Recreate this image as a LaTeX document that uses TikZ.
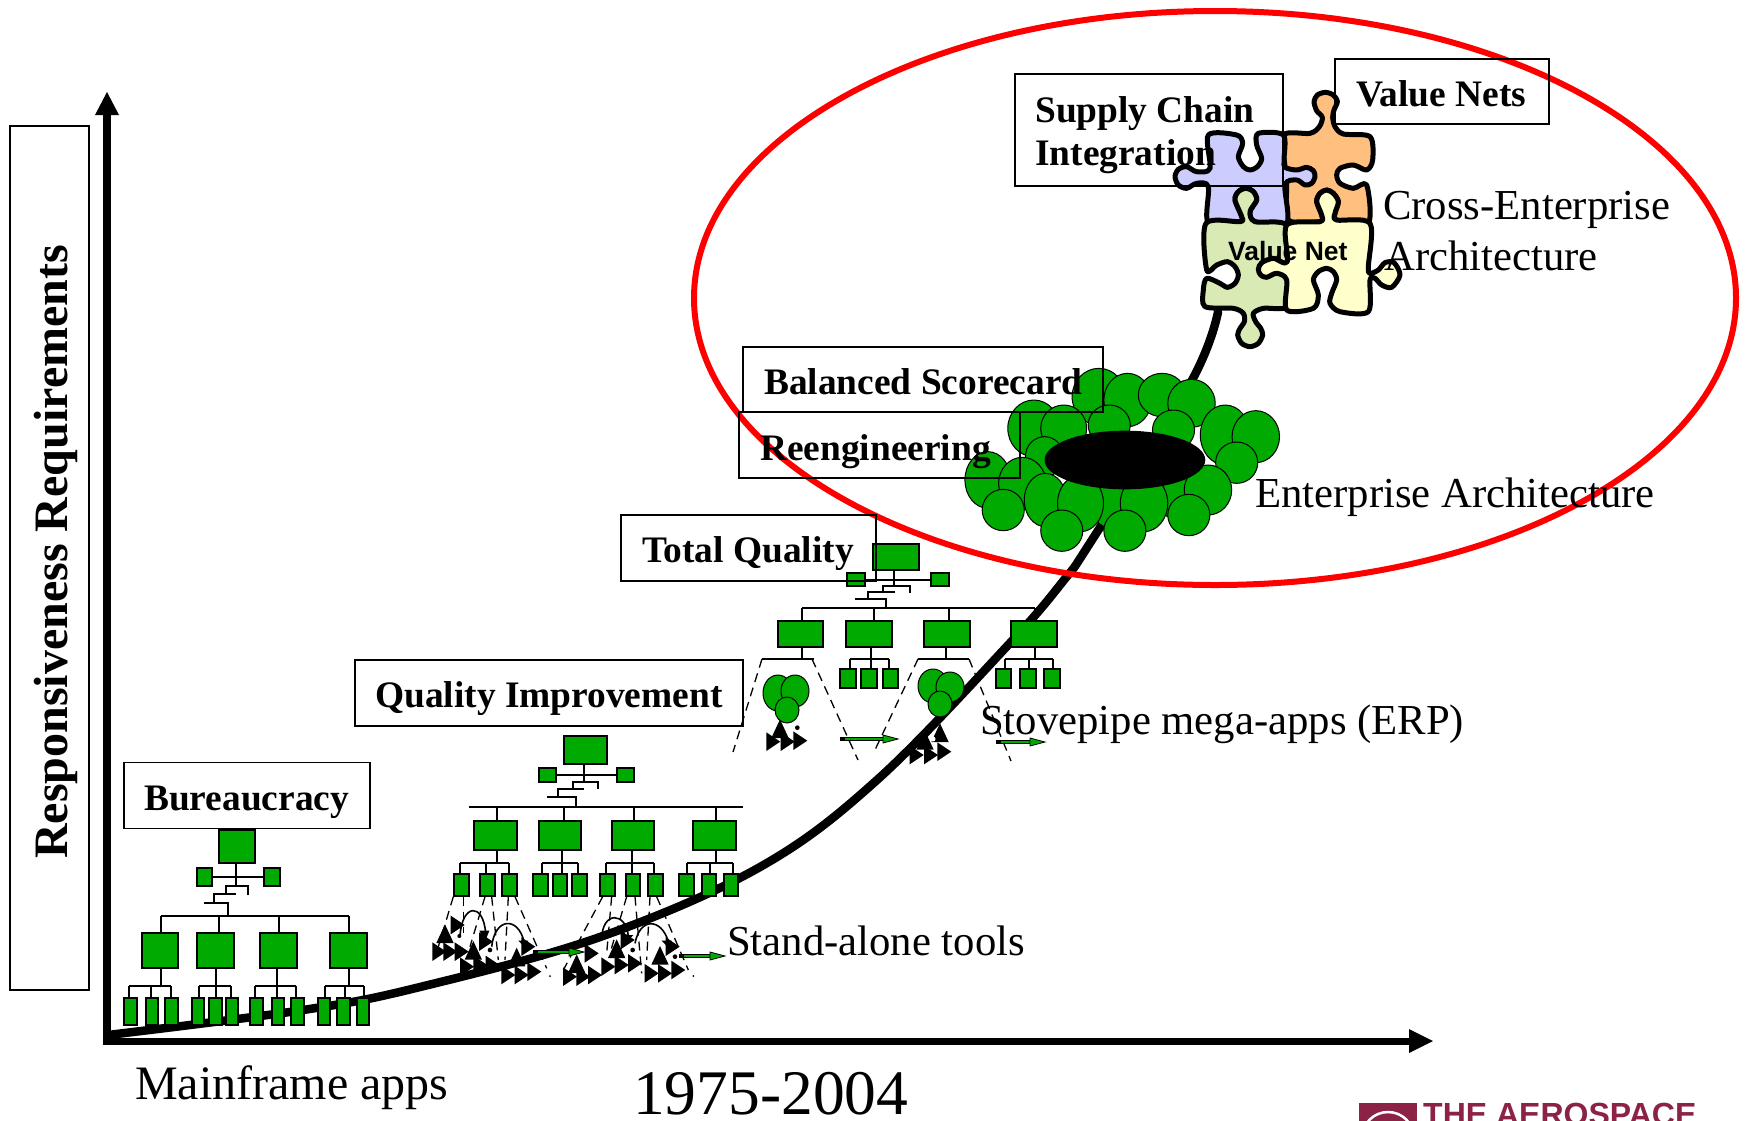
\documentclass[tikz,border=0pt]{standalone}
\usepackage{fontspec}
\setmainfont{Liberation Serif}
\newfontfamily\arialf{Liberation Sans}
\definecolor{gr}{HTML}{00AA00}
\definecolor{puz1}{HTML}{CCCCFF}
\definecolor{puz2}{HTML}{FFBF7F}
\definecolor{puz3}{HTML}{D9EAB5}
\definecolor{puz4}{HTML}{FFFFCC}
\definecolor{logoc}{HTML}{8C2346}
\tikzset{
 gbox/.style={draw=black,fill=gr,line width=1.6pt,inner sep=0pt,outer sep=0pt},
 ol/.style={draw=black,line width=1.3pt},
 dl/.style={draw=black,line width=1.3pt,dash pattern=on 9pt off 6pt},
 blob/.style={draw=black,fill=gr,line width=1pt},
 puz/.style={draw=black,line width=5pt,line join=round},
 tbox/.style={draw=black,line width=1.4pt},
 btxt/.style={anchor=base west,inner sep=0pt,font=\fontsize{37.4}{37.4}\selectfont\bfseries},
 rtxt/.style={anchor=base west,inner sep=0pt,font=\fontsize{42.7}{42.7}\selectfont},
 arcl/.style={draw=black,line width=1.6pt},
}
\newcommand\gb[5]{%
 \pgfmathsetmacro{\gw}{#4-#2}\pgfmathsetmacro{\gh}{#5-#3}%
 \node[gbox,minimum width=\gw pt,minimum height=\gh pt] (#1) at ({(#2+#4)/2},{(#3+#5)/2}) {};}
\newcommand\drop[3]{\draw[ol] (#1,#2) -- (#1,#2 |- #3.north);}
\newcommand\rise[3]{\draw[ol] (#1,#2 |- #3.south) -- (#1,#2);}
\newcommand\rtri[2]{\fill[black] (#1-18,#2-28) -- (#1+24,#2) -- (#1-18,#2+28) -- cycle;}
\newcommand\utri[2]{\fill[black] (#1-26,#2+24) -- (#1,#2-32) -- (#1+26,#2+24) -- cycle;}
\newcommand\garrow[3]{%
 \draw[black,line width=3.6pt] (#1,#3) -- (#2-12,#3);
 \draw[gr,line width=1.8pt] (#1+5,#3) -- (#2-12,#3);
 \filldraw[fill=gr,draw=black,line width=.8pt] (#2-15,#3-4) -- (#2,#3) -- (#2-15,#3+4) -- cycle;}
\begin{document}
\begin{tikzpicture}[x=1pt,y=-1pt]
\useasboundingbox (0,0) rectangle (1745,1120);
\clip (0,0) rectangle (1745,1120);
\fill[white] (0,0) rectangle (1745,1120);

% axes
\coordinate (origin) at (107,1041);
\coordinate (ytip) at (107,92);
\coordinate (xtip) at (1433,1041);
\draw[black,line width=8pt] (107,1045) -- (107,112);
\draw[black,line width=7pt] (103,1041) -- (1412,1041);
\fill[black] (ytip) -- (119,115) -- (95,115) -- cycle;
\fill[black] (xtip) -- (1409,1053) -- (1409,1029) -- cycle;

% growth curve
\draw[black,line width=8.5pt,line cap=round] plot[smooth,tension=.6] coordinates
 {(108,1035) (303,1010) (420,987) (600,937) (760,867) (877,780) (1010,643) (1064,580) (1090,543) (1191,382) (1218,312)};

% Chart 1
\gb{a0}{219}{830}{255}{863}
\gb{a1}{197}{868}{212}{886}\gb{a2}{264}{868}{280}{886}
\gb{am1}{142}{933}{178}{968}\gb{am2}{197}{933}{234}{968}\gb{am3}{260}{933}{297}{968}\gb{am4}{330}{933}{367}{968}
\gb{as1}{124}{998}{137}{1025}\gb{as2}{146}{998}{158}{1025}\gb{as3}{165}{998}{178}{1025}
\gb{as4}{192}{998}{204}{1025}\gb{as5}{209}{998}{222}{1025}\gb{as6}{226}{998}{238}{1025}
\gb{as7}{250}{998}{263}{1025}\gb{as8}{272}{998}{284}{1025}\gb{as9}{291}{998}{304}{1025}
\gb{as10}{318}{998}{330}{1025}\gb{as11}{337}{998}{350}{1025}\gb{as12}{357}{998}{369}{1025}
\rise{236}{886}{a0}
\draw[ol] (a1.east |- 236,877) -- (a2.west |- 236,877);
\draw[ol] (226,894) -- (226,886) -- (248,886) -- (248,895);
\draw[ol] (214,903) -- (214,894) -- (236,894);
\draw[ol] (204,903) -- (228,903) -- (228,916);
\draw[ol] (161,916) -- (349,916);
\drop{161}{916}{am1}\drop{219}{916}{am2}\drop{279}{916}{am3}\drop{349}{916}{am4}
\rise{161}{986}{am1}\rise{216}{986}{am2}\rise{277}{986}{am3}\rise{349}{986}{am4}
\draw[ol] (129,986) -- (171,986);\draw[ol] (199,986) -- (231,986);\draw[ol] (255,986) -- (296,986);\draw[ol] (325,986) -- (364,986);
\drop{129}{986}{as1}\drop{151}{986}{as2}\drop{171}{986}{as3}
\drop{199}{986}{as4}\drop{216}{986}{as5}\drop{231}{986}{as6}
\drop{255}{986}{as7}\drop{277}{986}{as8}\drop{296}{986}{as9}
\drop{325}{986}{as10}\drop{345}{986}{as11}\drop{364}{986}{as12}

% Chart 2
\gb{b0}{564}{736}{607}{764}
\gb{b1}{539}{768}{556}{782}\gb{b2}{617}{768}{634}{782}
\gb{bm1}{474}{821}{517}{850}\gb{bm2}{539}{821}{581}{850}\gb{bm3}{612}{821}{654}{850}\gb{bm4}{693}{821}{736}{850}
\gb{bs1}{454}{874}{469}{896}\gb{bs2}{480}{874}{495}{896}\gb{bs3}{502}{874}{517}{896}
\gb{bs4}{533}{874}{548}{896}\gb{bs5}{553}{874}{567}{896}\gb{bs6}{572}{874}{587}{896}
\gb{bs7}{600}{874}{615}{896}\gb{bs8}{626}{874}{640}{896}\gb{bs9}{648}{874}{663}{896}
\gb{bs10}{679}{874}{694}{896}\gb{bs11}{702}{874}{716}{896}\gb{bs12}{724}{874}{738}{896}
\rise{584}{782}{b0}
\draw[ol] (b1.east |- 584,775) -- (b2.west |- 584,775);
\draw[ol] (573,789) -- (573,782) -- (598,782) -- (598,789);
\draw[ol] (558,797) -- (558,789) -- (584,789);
\draw[ol] (547,797) -- (576,797) -- (576,807);
\draw[ol,line width=1.8pt] (469,807) -- (743,807);
\drop{497}{807}{bm1}\drop{564}{807}{bm2}\drop{634}{807}{bm3}\drop{716}{807}{bm4}
\rise{497}{863}{bm1}\rise{562}{863}{bm2}\rise{632}{863}{bm3}\rise{716}{863}{bm4}
\draw[ol] (460,863) -- (509,863);\draw[ol] (542,863) -- (578,863);\draw[ol] (606,863) -- (654,863);\draw[ol] (687,863) -- (733,863);
\drop{460}{863}{bs1}\drop{486}{863}{bs2}\drop{509}{863}{bs3}
\drop{542}{863}{bs4}\drop{562}{863}{bs5}\drop{578}{863}{bs6}
\drop{606}{863}{bs7}\drop{632}{863}{bs8}\drop{654}{863}{bs9}
\drop{687}{863}{bs10}\drop{710}{863}{bs11}\drop{733}{863}{bs12}

% Stand-alone tools clusters (crop coordinates at 3x)
\begin{scope}[shift={(420,720)},scale=1/3]
 \draw[dl] (100,530) -- (55,680);
 \draw[dl] (130,530) -- (130,640);
 \draw[dl] (195,530) -- (150,680);
 \draw[dl] (215,530) -- (235,720);
 \draw[dl] (265,530) -- (255,720);
 \draw[dl] (285,530) -- (380,745);
 \draw[dl] (548,530) -- (430,750);
 \draw[dl] (575,530) -- (560,700);
 \draw[dl] (620,530) -- (570,700);
 \draw[dl] (645,530) -- (665,760);
 \draw[dl] (690,530) -- (680,720);
 \draw[dl] (710,530) -- (805,750);
 \fill[black] (390,768) circle (3) (820,768) circle (3);
 \draw[arcl] (120,650) .. controls (125,550) and (190,545) .. (197,640);
 \draw[arcl] (215,680) .. controls (225,590) and (295,590) .. (312,665);
 \draw[arcl] (545,660) .. controls (545,570) and (620,575) .. (625,650);
 \draw[arcl] (645,670) .. controls (660,590) and (725,595) .. (745,665);
 \rtri{55}{695}\rtri{88}{695}\rtri{122}{695}\utri{75}{645}\rtri{110}{615}
 \fill[black] (178,632) -- (208,632) -- (195,665) -- cycle;\rtri{195}{665}
 \fill[black] (118,648) circle (6);
 \rtri{138}{740}\rtri{178}{735}\rtri{215}{735}\utri{160}{695}\fill[black] (210,690) circle (7);
 \rtri{322}{680}\fill[black] (295,662) -- (325,662) -- (312,680) -- cycle;
 \rtri{262}{765}\rtri{302}{765}\rtri{340}{755}\utri{290}{715}
 \rtri{447}{770}\rtri{487}{770}\rtri{522}{765}\utri{470}{735}\rtri{512}{700}
 \rtri{620}{660}\fill[black] (605,645) -- (640,645) -- (622,665) -- cycle;
 \rtri{562}{740}\rtri{602}{735}\rtri{642}{730}\utri{590}{690}\fill[black] (638,690) circle (7);
 \rtri{755}{680}\fill[black] (725,662) -- (755,662) -- (742,680) -- cycle;
 \rtri{692}{760}\rtri{732}{760}\rtri{772}{750}\utri{720}{710}\fill[black] (765,710) circle (7);
\end{scope}
\garrow{533}{584}{952}
\garrow{679}{725}{956}

% Chart 3
\gb{c0}{873}{544}{919}{570}
\gb{c1}{847}{573}{865}{586}\gb{c2}{931}{573}{949}{586}
\gb{cm1}{778}{621}{823}{647}\gb{cm2}{846}{621}{892}{647}\gb{cm3}{924}{621}{970}{647}\gb{cm4}{1011}{621}{1057}{647}
\gb{cs1}{840}{669}{856}{688}\gb{cs2}{861}{669}{877}{688}\gb{cs3}{883}{669}{898}{688}
\gb{cs4}{996}{669}{1011}{688}\gb{cs5}{1020}{669}{1036}{688}\gb{cs6}{1044}{669}{1060}{688}
\rise{894}{586}{c0}
\draw[ol] (c1.east |- 894,580) -- (c2.west |- 894,580);
\draw[ol] (883,592) -- (883,586) -- (910,586) -- (910,593);
\draw[ol] (868,599) -- (868,592) -- (895,592);
\draw[ol] (855,599) -- (886,599) -- (886,608);
\draw[ol] (802,608) -- (1035,608);
\drop{802}{608}{cm1}\drop{874}{608}{cm2}\drop{949}{608}{cm3}\drop{1035}{608}{cm4}
\rise{802}{659}{cm1}\rise{871}{659}{cm2}\rise{946}{659}{cm3}\rise{1035}{659}{cm4}
\draw[ol] (762,659) -- (814,659);\draw[ol] (850,659) -- (889,659);\draw[ol] (918,659) -- (969,659);\draw[ol] (1005,659) -- (1053,659);
\drop{850}{659}{cs1}\drop{871}{659}{cs2}\drop{889}{659}{cs3}
\drop{1005}{659}{cs4}\drop{1029}{659}{cs5}\drop{1053}{659}{cs6}
\draw[dl] (762,659) -- (733,752);
\draw[dl] (812,659) -- (858,760);
\draw[dl] (918,659) -- (874,752);
\draw[dl] (969,659) -- (1011,761);
\begin{scope}[shift={(610,510)},scale=1/3]
 \rtri{487}{695}\rtri{530}{695}\rtri{568}{692}\utri{510}{660}
 \fill[black] (562,653) circle (7);
 \rtri{917}{735}\rtri{960}{735}\rtri{1000}{725}\utri{945}{695}\utri{990}{672}
\end{scope}
\draw[blob] (778,693) ellipse [x radius=15,y radius=18];
\draw[blob] (795,691) ellipse [x radius=14,y radius=16];
\draw[blob] (787,710) ellipse [x radius=12,y radius=13];
\draw[blob] (933,686) ellipse [x radius=15,y radius=17];
\draw[blob] (950,687) ellipse [x radius=14,y radius=15];
\draw[blob] (940,704) ellipse [x radius=12,y radius=13];
\fill[white] (933,739) circle (2.5);
\garrow{840}{898}{739}
\garrow{996}{1045}{742}

% Big blobs
\begin{scope}[shift={(720,340)},xscale=0.3827,yscale=1/3]
 \foreach \cx/\cy/\rx/\ry in {990/170/70/85,1065/180/62/80,1155/165/62/65,1232/190/62/72,820/265/68/85,898/265/60/70,1017/255/55/60,1185/270/55/60,1320/285/65/90,1400/290/62/78,1350/368/55/62,848/350/50/60,700/420/60/85,790/430/62/78,740/510/55/62,850/480/55/80,1025/485/60/80,1190/465/55/70,942/490/60/85,1108/490/62/85,1275/450/62/75,893/572/55/62,1058/572/55/62,1225/525/55/62}
  \draw[blob] (\cx,\cy) ellipse [x radius=\rx,y radius=\ry];
 \fill[black] (1058,360) ellipse [x radius=210,y radius=88];
\end{scope}

% Puzzle
\begin{scope}[shift={(1140,80)},scale=1/3]
 \filldraw[puz,fill=puz2] plot[smooth cycle,tension=.5] coordinates {(430,165) (510,160) (538,140) (547,112) (530,92) (522,65) (532,45) (556,37) (580,45) (592,65) (582,90) (578,112) (585,140) (610,162) (690,170) (698,240) (680,270) (640,255) (600,265) (590,285) (600,310) (640,325) (680,315) (685,430) (590,420) (585,400) (595,365) (580,340) (560,330) (540,340) (530,365) (545,405) (540,425) (445,420) (440,320) (435,260)};
 \filldraw[puz,fill=puz1] plot[smooth cycle,tension=.5] coordinates {(205,165) (290,165) (308,190) (295,230) (310,260) (330,270) (352,260) (365,235) (350,195) (355,160) (430,165) (432,240) (435,262) (470,270) (500,262) (520,272) (525,290) (515,310) (495,315) (470,300) (435,315) (440,430) (345,425) (330,395) (350,360) (340,335) (318,325) (295,335) (285,360) (305,410) (300,425) (205,430) (205,320) (170,310) (140,325) (115,315) (105,290) (115,268) (140,260) (170,275) (210,265)};
 \filldraw[puz,fill=puz3] plot[smooth cycle,tension=.5] coordinates {(198,430) (300,425) (305,410) (285,360) (295,335) (318,325) (340,335) (350,360) (330,395) (345,425) (440,435) (442,545) (442,600) (442,680) (370,685) (340,700) (347,725) (362,745) (368,765) (355,790) (330,800) (305,790) (293,765) (300,745) (313,725) (310,700) (280,685) (195,680) (190,630) (200,595) (240,610) (262,622) (285,610) (295,585) (285,560) (262,545) (230,555) (200,570)};
 \filldraw[puz,fill=puz4] plot[smooth cycle,tension=.5] coordinates {(440,435) (540,425) (545,405) (530,365) (540,340) (560,330) (580,340) (595,365) (585,400) (590,420) (690,430) (685,560) (690,580) (715,570) (735,548) (762,548) (780,585) (755,622) (725,615) (705,595) (690,600) (685,695) (600,695) (570,670) (575,640) (590,600) (580,575) (560,565) (535,575) (520,600) (535,645) (520,685) (440,690) (440,600) (410,580) (380,592) (362,585) (355,568) (365,548) (400,535) (442,545)};
\end{scope}

% Red ellipse
\draw[red,line width=6pt] (1215,298) ellipse [x radius=521,y radius=287];

% Text boxes (no fill)
\node[tbox,inner sep=0pt,minimum width=79pt,minimum height=864pt] (ybox) at (49.5,558) {};
\node[tbox,inner sep=0pt,minimum width=246pt,minimum height=66pt] (bbox) at (247,795.5) {};
\node[tbox,inner sep=0pt,minimum width=388pt,minimum height=66pt] (qbox) at (549,693) {};
\node[tbox,inner sep=0pt,minimum width=255pt,minimum height=66pt] (tbox1) at (748.5,548) {};
\node[tbox,inner sep=0pt,minimum width=281pt,minimum height=66pt] (rbox) at (879.5,445) {};
\node[tbox,inner sep=0pt,minimum width=360pt,minimum height=65pt] (sbox) at (923,379.5) {};
\node[tbox,inner sep=0pt,minimum width=268pt,minimum height=112pt] (cbox) at (1149,130) {};
\node[tbox,inner sep=0pt,minimum width=214pt,minimum height=65pt] (vbox) at (1442,91.5) {};

% Labels
\node[btxt] (t1) at (144,810) {Bureaucracy};
\node[btxt] (t2) at (375,707) {Quality Improvement};
\node[btxt] (t3) at (642,562) {Total Quality};
\node[btxt] (t4) at (760,460) {Reengineering};
\node[btxt] (t5) at (764,394) {Balanced Scorecard};
\node[btxt] (t6) at (1035,122) {Supply Chain};
\node[btxt] (t7) at (1035,165) {Integration};
\node[btxt] (t8) at (1356,106) {Value Nets};
\node[rtxt] (t9) at (1383,219) {Cross-Enterprise};
\node[rtxt] (t10) at (1384,270) {Architecture};
\node[rtxt] (t11) at (1255,507) {Enterprise Architecture};
\node[rtxt] (t12) at (980,734) {Stovepipe mega-apps (ERP)};
\node[rtxt] (t13) at (727,955) {Stand-alone tools};
\node[anchor=base west,inner sep=0pt,font=\fontsize{48}{48}\selectfont] (t14) at (135,1099) {Mainframe apps};
\node[anchor=base west,inner sep=0pt,font=\fontsize{63.5}{63.5}\selectfont] (t15) at (633,1114) {1975-2004};
\node[anchor=base west,inner sep=0pt,rotate=90,font=\fontsize{48}{48}\selectfont\bfseries] (t16) at (67,859) {Responsiveness Requirements};
\node[anchor=base west,inner sep=0pt,font=\fontsize{26.5}{26.5}\selectfont\arialf\bfseries] (t17) at (1228,260) {Value Net};

% Logo
\fill[logoc] (1359,1103) rectangle (1417,1125);
\draw[white,line width=2.5pt] (1388,1138) circle (26);
\node[anchor=base west,inner sep=0pt,text=logoc,font=\fontsize{32}{32}\selectfont\arialf\bfseries] (logo) at (1423,1125.5) {THE AEROSPACE};
\end{tikzpicture}
\end{document}
